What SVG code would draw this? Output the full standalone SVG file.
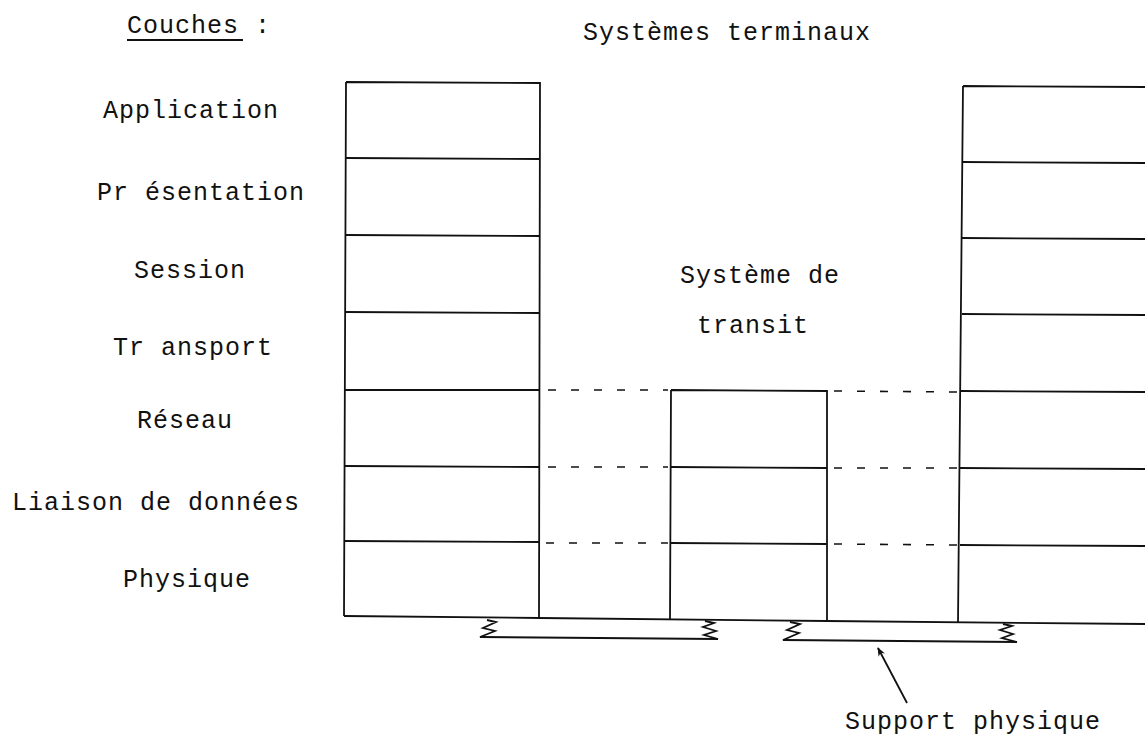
<svg xmlns="http://www.w3.org/2000/svg" width="1145" height="738" viewBox="0 0 1145 738">
<style>
text{font-family:"Liberation Mono","Courier New",monospace;font-size:25px;letter-spacing:1px;fill:#111}
.ln{stroke:#111;stroke-width:1.8;fill:none}
.dash{stroke:#111;stroke-width:1.6;fill:none;stroke-dasharray:8 15}
</style>
<defs>
<marker id="ah" viewBox="0 0 10 10" refX="9" refY="5" markerWidth="9" markerHeight="9" orient="auto-start-reverse" markerUnits="userSpaceOnUse">
<path d="M0,1 L10,5 L0,9 L3,5 Z" fill="#111"/>
</marker>
</defs>
<rect width="1145" height="738" fill="#fff"/>
<g id="labels">
<text x="127" y="33">Couches :</text>
<line x1="127" y1="40" x2="243" y2="40" class="ln" stroke-width="1.5"/>
<text x="583" y="40">Systèmes terminaux</text>
<text x="103" y="118">Application</text>
<text x="97" y="200">Pr ésentation</text>
<text x="134" y="278">Session</text>
<text x="113" y="355">Tr ansport</text>
<text x="137" y="428">Réseau</text>
<text x="12" y="510">Liaison de données</text>
<text x="123" y="587">Physique</text>
<text x="680" y="283">Système de</text>
<text x="697" y="333">transit</text>
<text x="845" y="729">Support physique</text>
</g>
<g id="systeme-terminal-gauche">
<path class="ln" d="M346,82 L540,83 L539,618 M346,82 L344,616"/>
<path class="ln" d="M346,158 L540,159 M346,235 L540,236 M345,312 L540,313 M345,390 L540,390 M345,466 L540,467 M345,541 L540,542"/>
</g>
<g id="systeme-transit">
<path class="ln" d="M671,390 L827,391 L827,621 M671,390 L670,620"/>
<path class="ln" d="M671,467 L827,468 M671,543 L827,544"/>
</g>
<g id="systeme-terminal-droit">
<path class="ln" d="M963,86 L1146,87 M963,86 L958,622"/>
<path class="ln" d="M963,162 L1146,163 M962,238 L1146,239 M962,314 L1146,315 M961,391 L1146,392 M960,468 L1146,469 M960,545 L1146,546"/>
</g>
<g id="connecteurs">
<path class="ln" d="M344,616 L540,618 L827,621 L1146,624"/>
<path class="dash" d="M548,390 L668,390 M834,391 L958,392"/>
<path class="dash" d="M548,467 L668,467 M834,468 L958,468"/>
<path class="dash" d="M546,543 L668,543 M834,544 L958,545"/>
<path class="ln" stroke-width="2" d="M487,620 L496,622 L483,628 L495,631 L480,637 L718,639 L704,635 L716,631 L703,627 L714,623 L705,621"/>
<path class="ln" stroke-width="2" d="M790,622 L800,624 L787,630 L799,633 L783,640 L1017,642 L1002,638 L1013,634 L1000,630 L1012,626 L1003,624"/>
<line class="ln" stroke-width="1.5" x1="907" y1="703" x2="878" y2="648" marker-end="url(#ah)"/>
</g>
</svg>
